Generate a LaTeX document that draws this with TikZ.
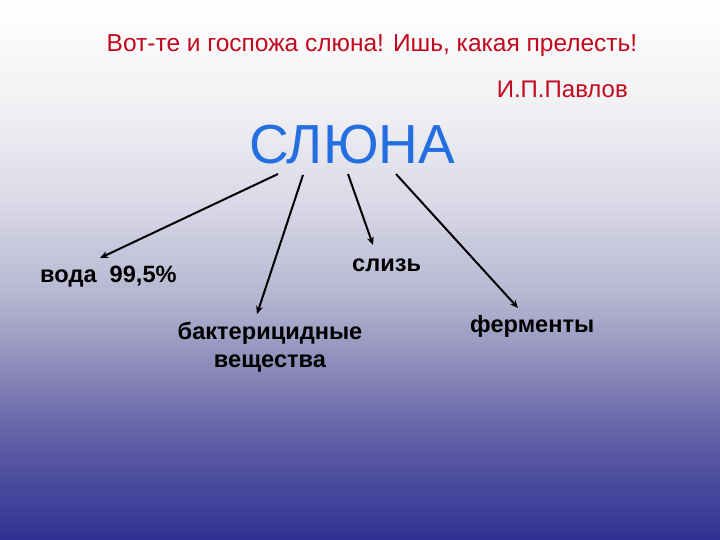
\documentclass[tikz,border=0pt]{standalone}
\usepackage{fontspec}
\setmainfont{Liberation Sans}
\usetikzlibrary{arrows.meta}
\definecolor{titlered}{RGB}{195,8,30}
\definecolor{slblue}{RGB}{35,110,225}
\definecolor{bg0}{RGB}{255,255,255}
\definecolor{bg1}{RGB}{242,242,245}
\definecolor{bg2}{RGB}{218,218,232}
\definecolor{bg3}{RGB}{180,180,208}
\definecolor{bg4}{RGB}{132,130,180}
\definecolor{bg5}{RGB}{96,94,166}
\definecolor{bg6}{RGB}{46,49,146}
\tikzset{
  lbl/.style={font=\fontsize{23.6}{27}\selectfont\bfseries, text=black, inner sep=0pt, align=center},
  conn/.style={-{Stealth[length=8pt,width=7pt]}, line width=2pt, black}
}
\begin{document}
\begin{tikzpicture}[x=1pt,y=-1pt]
\useasboundingbox (0,0) rectangle (720,540);
\shade[top color=bg0, bottom color=bg1] (0,0) rectangle (720,100.5);
\shade[top color=bg1, bottom color=bg2] (0,100) rectangle (720,200.5);
\shade[top color=bg2, bottom color=bg3] (0,200) rectangle (720,300.5);
\shade[top color=bg3, bottom color=bg4] (0,300) rectangle (720,380.5);
\shade[top color=bg4, bottom color=bg5] (0,380) rectangle (720,440.5);
\shade[top color=bg5, bottom color=bg6] (0,440) rectangle (720,540);
\node[inner sep=0pt, anchor=center, text=titlered, font=\fontsize{24.5}{28}\selectfont] (quote) at (372,46) {Вот-те и госпожа слюна! Ишь, какая прелесть!};
\node[inner sep=0pt, anchor=east, text=titlered, font=\fontsize{24}{28}\selectfont] (author) at (628,89) {И.П.Павлов};
\node[inner sep=0pt, text=slblue, font=\fontsize{55}{62}\selectfont] (sl) at (352,145) {СЛЮНА};
\node[lbl, anchor=west] (voda) at (40,277) {вода\ \ 99,5\%};
\node[lbl, anchor=west] (sliz) at (352,265) {слизь};
\node[lbl] (bakt) at (270,347) {бактерицидные\\[1pt]вещества};
\node[lbl, anchor=west] (ferm) at (470,326) {ферменты};
\coordinate (s1) at (278,174);
\coordinate (s2) at (303,175);
\coordinate (s3) at (348,174);
\coordinate (s4) at (396,174);
\coordinate (e1) at (100,258);
\coordinate (e2) at (257,314);
\coordinate (e3) at (373,245);
\coordinate (e4) at (518,308);
\draw[conn] (s1) -- (e1);
\draw[conn] (s2) -- (e2);
\draw[conn] (s3) -- (e3);
\draw[conn] (s4) -- (e4);
\end{tikzpicture}
\end{document}
